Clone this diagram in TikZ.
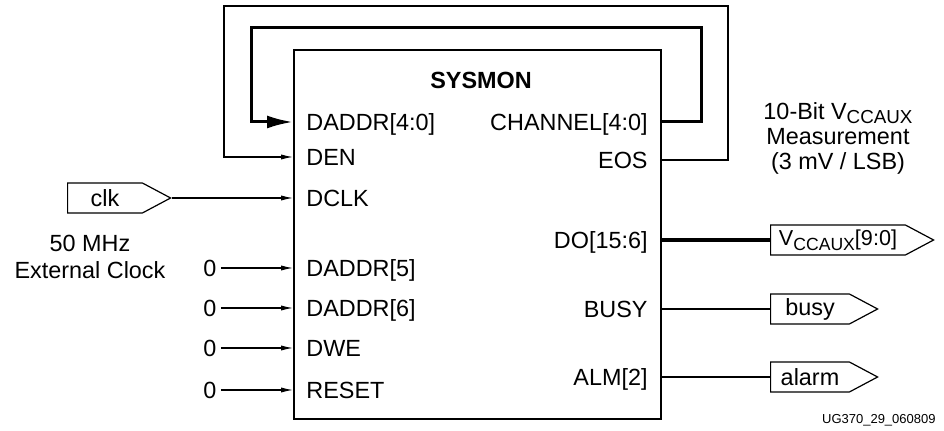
\documentclass[tikz,border=0pt]{standalone}
\usepackage{fontspec}
\setmainfont{Liberation Sans}
\usetikzlibrary{arrows.meta,positioning,calc,shapes.symbols}
\newcommand{\ccaux}[1][9.4]{V\raisebox{-2.4pt}[\height][0pt]{\fontsize{#1}{#1}\selectfont CCAUX}}

\begin{document}
\begin{tikzpicture}[x=0.5pt,y=-0.5pt,
    font=\fontsize{11.7}{13.5}\selectfont,
    blk/.style={draw=black, line width=1pt, minimum width=183.5pt,
                minimum height=184.5pt, inner sep=0pt},
    pin/.style={inner sep=0pt, text height=8.4pt, text depth=0pt},
    zero/.style={inner xsep=2pt, inner ysep=0pt},
    wire/.style={line width=0.55pt},
    arr/.style={wire, -{Latex[length=6pt,width=2.6pt]}},
    fb/.style={line width=1.5pt, -{Latex[length=13pt,width=6.5pt]}},
    bus/.style={line width=2.2pt},
    iobuf/.style={draw=black, line width=0.6pt, signal, signal to=east,
                  signal pointer angle=56, inner sep=0pt, anchor=west}
]
  \useasboundingbox (0,0) rectangle (944,431);
  % SYSMON block
  \node[blk] (sysmon) at (477.5,234.5) {};
  \node[font=\fontsize{11.7}{13.5}\selectfont\bfseries] (title) at (481,80) {SYSMON};
  % Input pins
  \node[pin, anchor=west] (daddra) at (306,122) {DADDR[4:0]};
  \node[pin, anchor=west] (den) at (306,157) {DEN};
  \node[pin, anchor=west] (dclk) at (306,198) {DCLK};
  \node[pin, anchor=west] (daddrb) at (306,268) {DADDR[5]};
  \node[pin, anchor=west] (daddrc) at (306,308) {DADDR[6]};
  \node[pin, anchor=west] (dwe) at (306,348) {DWE};
  \node[pin, anchor=west] (reset) at (306,390) {RESET};
  % Output pins
  \node[pin, anchor=east] (chan) at (648,122) {CHANNEL[4:0]};
  \node[pin, anchor=east] (eos) at (648,160) {EOS};
  \node[pin, anchor=east] (do) at (648,240) {DO[15:6]};
  \node[pin, anchor=east] (busy) at (648,309) {BUSY};
  \node[pin, anchor=east] (alm) at (648,377) {ALM[2]};
  % Feedback loops
  \draw[fb] (sysmon.east |- chan) -- ++(39,0) |- (251,28) |- (sysmon.west |- daddra);
  \draw[arr] (sysmon.east |- eos) -- ++(66,0) |- (224,6) |- (sysmon.west |- den);
  % Clock input
  \node[iobuf, minimum width=51.5pt, minimum height=15pt] (clk) at (67,198) {clk};
  \draw[arr] (clk.east) -- (sysmon.west |- dclk);
  \node[align=center, inner sep=0pt] (clknote) at (90,257) {50 MHz\\External Clock};
  % Tied-off inputs
  \foreach \p in {daddrb,daddrc,dwe,reset}
    \node[zero] (z-\p) at (210,0 |- \p) {0};
  \foreach \p in {daddrb,daddrc,dwe,reset}
    \draw[arr] (z-\p.east) -- (sysmon.west |- \p);
  % Outputs
  \node[iobuf, minimum width=81.5pt, minimum height=15pt, inner xsep=1.5pt,
        font=\fontsize{10.8}{12}\selectfont] (vccaux) at (770,240) {\ccaux[8.8][9:0]};
  \node[iobuf, minimum width=53.5pt, minimum height=15pt] (obusy) at (770,309) {busy};
  \node[iobuf, minimum width=53.5pt, minimum height=15pt] (oalarm) at (770,377) {alarm};
  \draw[bus] (sysmon.east |- do) -- (vccaux.west);
  \draw[wire] (sysmon.east |- busy) -- (obusy.west);
  \draw[wire] (sysmon.east |- alm) -- (oalarm.west);
  % Measurement note
  \node[align=center, inner sep=0pt, font=\fontsize{11.7}{12.5}\selectfont] (meas) at (838,138)
    {10-Bit \ccaux\\Measurement\\(3 mV / LSB)};
  % Figure id
  \node[anchor=east, inner sep=0pt, font=\fontsize{6.5}{8}\selectfont] (figid) at (936,420) {UG370\_29\_060809};
\end{tikzpicture}
\end{document}
